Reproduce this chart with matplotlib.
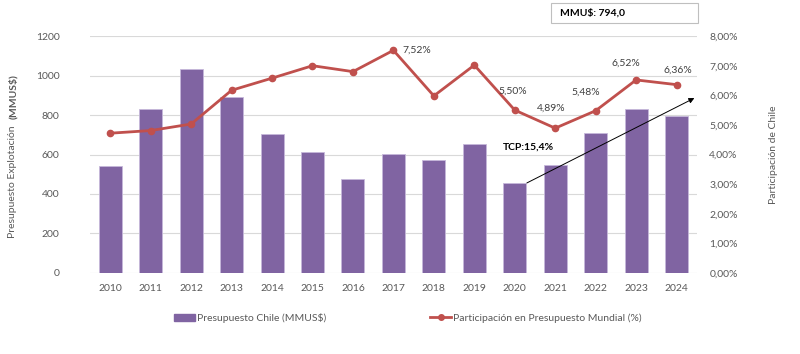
import matplotlib
matplotlib.use('Agg')
import matplotlib.pyplot as plt
import matplotlib.patches as mpatches
from matplotlib.lines import Line2D
import numpy as np

plt.rcParams['font.family'] = ['Lato', 'DejaVu Sans']

# datos
years = ['2010', '2011', '2012', '2013', '2014', '2015', '2016', '2017',
         '2018', '2019', '2020', '2021', '2022', '2023', '2024']
presupuesto = [542, 829, 1031, 889, 704, 611, 474, 604, 574, 652, 456, 545, 710, 830, 794]
participacion = [4.72, 4.81, 5.03, 6.17, 6.58, 7.00, 6.80, 7.52, 5.98, 7.02,
                 5.50, 4.89, 5.48, 6.52, 6.36]
# etiquetas visibles: indice -> desplazamiento (px)
label_idx = [7, 10, 11, 12, 13, 14]
label_off = [(9, 0), (-2, 19), (-4, 20), (-10, 19), (-10, 17), (1, 14)]

bar_color = '#8064a2'
line_color = '#c0504d'
txt_color = '#595959'

fig = plt.figure(figsize=(8, 3.54), dpi=100)
ax1 = fig.add_axes([0.1125, 0.229, 0.7585, 0.669])
x = np.arange(len(years))

ax1.bar(x, presupuesto, width=0.57, color=bar_color, edgecolor='#c6b8da',
        linewidth=0.6, zorder=2)
ax1.set_ylim(0, 1200)
ax1.set_yticks(range(0, 1201, 200))
ax1.set_xlim(-0.5, len(years) - 0.5)
ax1.set_xticks(x)
ax1.set_xticklabels(years)
ax1.grid(axis='y', color='#d9d9d9', linewidth=0.8, zorder=0)
ax1.set_axisbelow(True)
for s in ax1.spines.values():
    s.set_visible(False)
ax1.tick_params(length=0, labelsize=7.5, colors=txt_color, pad=8)
ax1.tick_params(axis='y', pad=22)

ax2 = ax1.twinx()
ax2.plot(x, participacion, color=line_color, linewidth=2, marker='o',
         markersize=4.5, zorder=3)
ax2.set_ylim(0, 8)
ax2.set_yticks(range(0, 9))
ax2.set_yticklabels(['{:.2f}%'.format(v).replace('.', ',') for v in range(0, 9)])
for s in ax2.spines.values():
    s.set_visible(False)
ax2.tick_params(length=0, labelsize=7.5, colors=txt_color, pad=9)

for i, (dx, dy) in zip(label_idx, label_off):
    ha = 'left' if dx > 5 else 'center'
    ax2.annotate('{:.2f}%'.format(participacion[i]).replace('.', ','),
                 (x[i], participacion[i]), xytext=(dx * 0.72, dy * 0.72),
                 textcoords='offset points', ha=ha, va='center',
                 fontsize=7.5, color='#404040')

# flecha TCP
ax1.annotate('', xy=(14.44, 886), xytext=(10.3, 456),
             arrowprops=dict(arrowstyle='-|>', color='black', lw=0.7,
                             mutation_scale=8, shrinkA=0, shrinkB=0), zorder=5)
ax1.text(9.7, 640, 'TCP:15,4%', fontsize=7.5, fontweight='bold',
         color='black', ha='left', va='center')

# caja MMU$
fig.patches.append(mpatches.Rectangle((551 / 800, 1 - 23 / 354), 147 / 800, 20 / 354,
                                      transform=fig.transFigure, facecolor='white',
                                      edgecolor='#bfbfbf', linewidth=0.8))
fig.text(560 / 800, 1 - 13 / 354, 'MMU$: 794,0', fontsize=7.5, fontweight='bold',
         ha='left', va='center')

# titulos de ejes
fig.text(13 / 800, 1 - 238 / 354, 'Presupuesto Explotación', rotation=90,
         fontsize=7.5, color=txt_color, ha='center', va='bottom')
fig.text(13 / 800, 1 - 74 / 354, '(MMUS$)', rotation=90, fontsize=7.5,
         fontweight='bold', color=txt_color, ha='center', va='top')
fig.text(773 / 800, 1 - 155 / 354, 'Participación de Chile', rotation=90,
         fontsize=7.5, color=txt_color, ha='center', va='center')

# leyenda
handles = [mpatches.Patch(color=bar_color),
           Line2D([], [], color=line_color, lw=2, marker='o', markersize=4)]
fig.legend(handles, ['Presupuesto Chile (MMUS$)', 'Participación en Presupuesto Mundial (%)'],
           loc='center', bbox_to_anchor=(0.51, 0.102), ncol=2, frameon=False,
           fontsize=7.5, labelcolor=txt_color, columnspacing=10, handlelength=2,
           handletextpad=0.2)

fig.savefig('out.png', dpi=100)
